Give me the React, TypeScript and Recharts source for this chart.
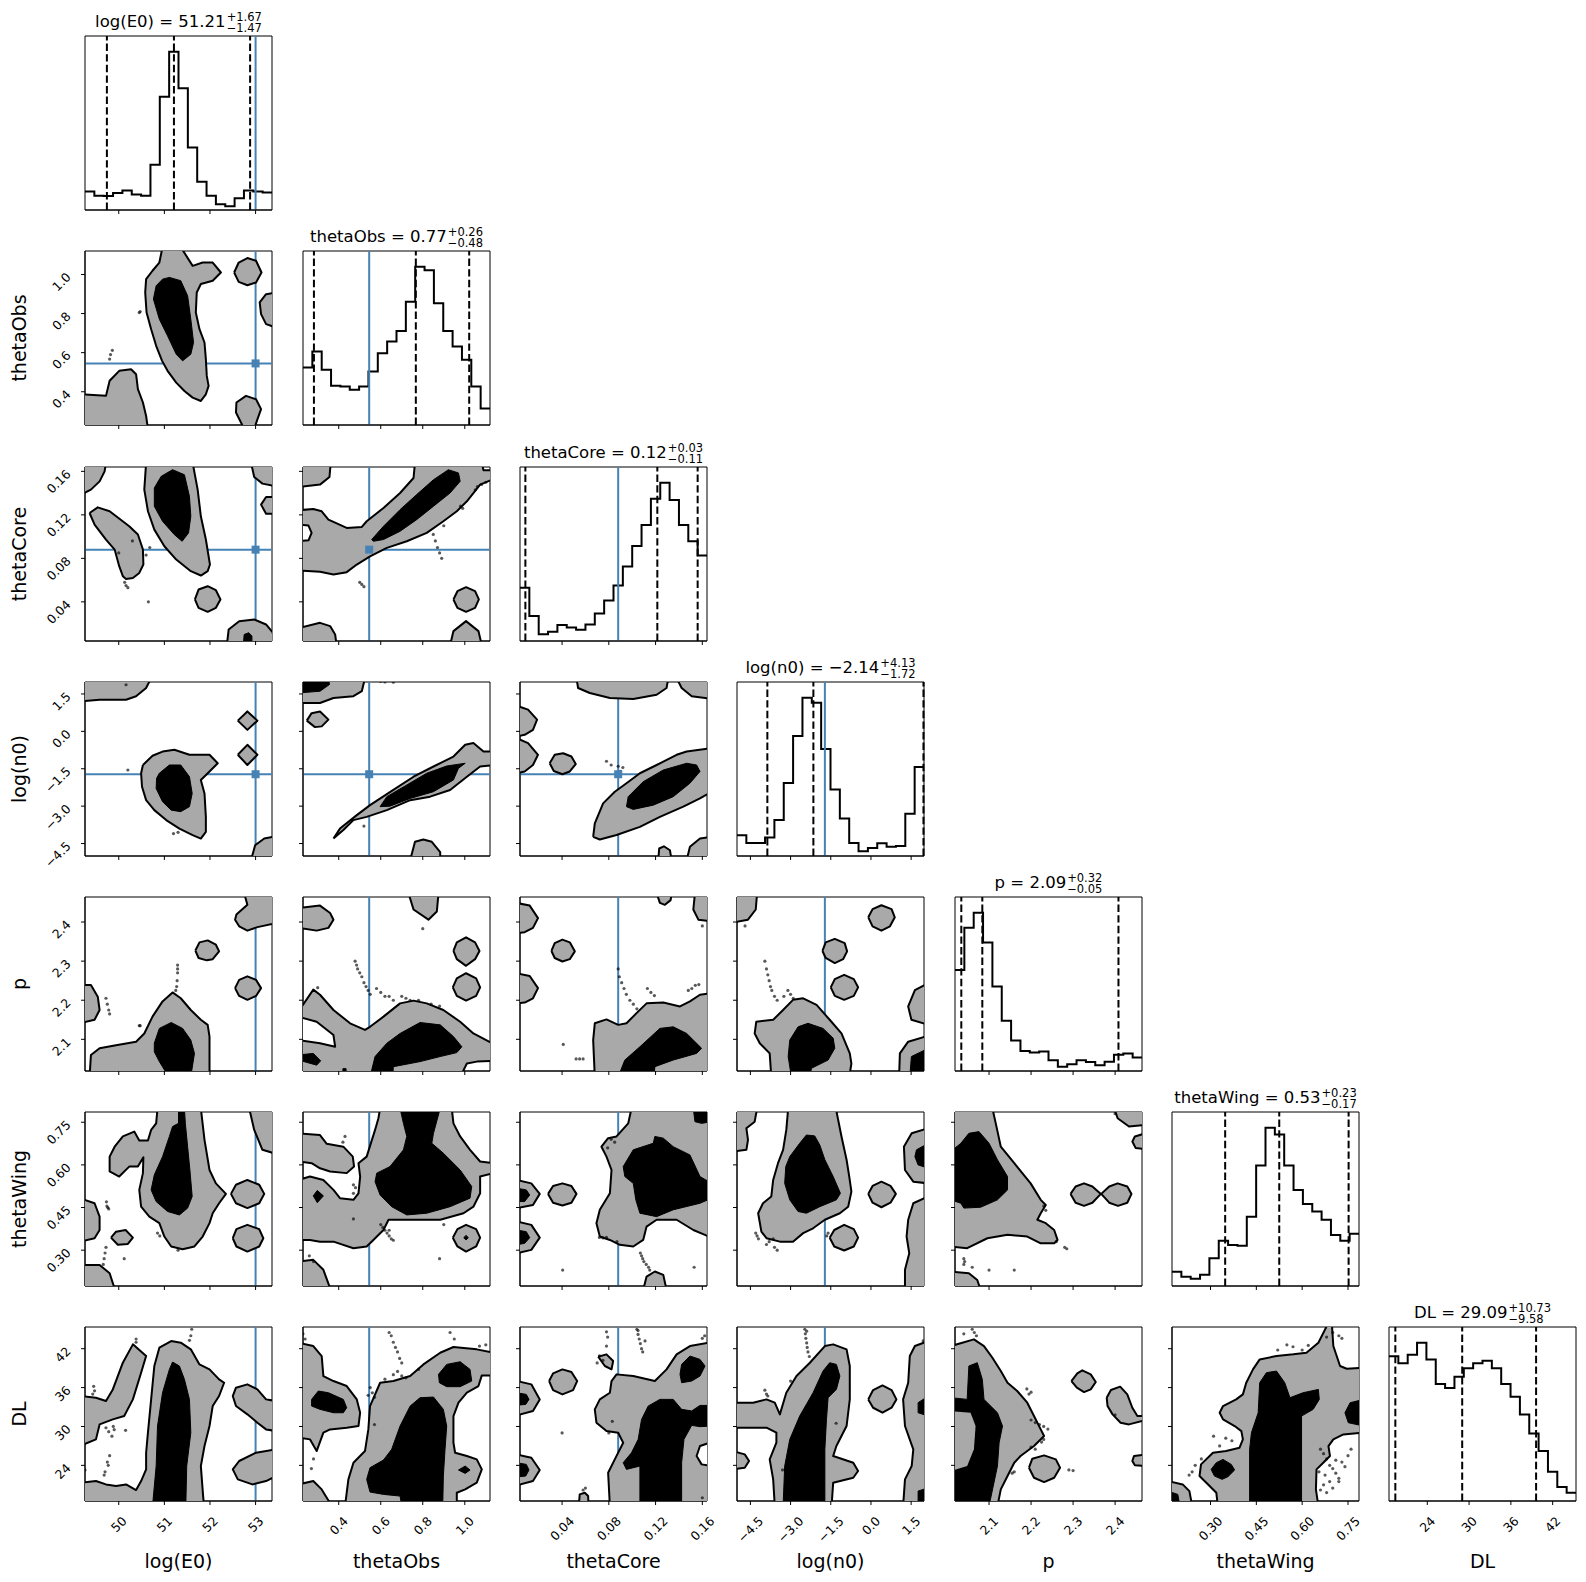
import React from 'react';
import { ComposedChart, Scatter, Line, XAxis, YAxis, ReferenceLine, ReferenceArea } from 'recharts';

// ---------- parameters ----------
const LABELS = ['log(E0)', 'thetaObs', 'thetaCore', 'log(n0)', 'p', 'thetaWing', 'DL'];
const LO = [49.26, 0.23, 0.004, -5.0, 2.019, 0.174, 18.5];
const HI = [53.36, 1.12, 0.164, 1.98, 2.464, 0.786, 45.35];
const TICKS = [
  [50, 51, 52, 53],
  [0.4, 0.6, 0.8, 1.0],
  [0.04, 0.08, 0.12, 0.16],
  [-4.5, -3.0, -1.5, 0, 1.5],
  [2.1, 2.2, 2.3, 2.4],
  [0.3, 0.45, 0.6, 0.75],
  [24, 30, 36, 42],
];
const DECIMALS = [0, 1, 2, 1, 1, 2, 0];
const TRUTH: (number | null)[] = [53.0, 0.545, 0.088, -1.72, null, null, null];
const MEDIAN_TXT = ['51.21', '0.77', '0.12', '\u22122.14', '2.09', '0.53', '29.09'];
const PLUS_TXT = ['+1.67', '+0.26', '+0.03', '+4.13', '+0.32', '+0.23', '+10.73'];
const MINUS_TXT = ['\u22121.47', '\u22120.48', '\u22120.11', '\u22121.72', '\u22120.05', '\u22120.17', '\u22129.58'];
const QUANTILES = [
  [49.74, 51.21, 52.88],
  [0.282, 0.767, 1.021],
  [0.0086, 0.1215, 0.156],
  [-3.867, -2.149, 1.96],
  [2.034, 2.084, 2.408],
  [0.348, 0.525, 0.752],
  [19.41, 29.01, 39.62],
];

// ---------- histogram counts (20 bins) ----------
const H_E0 = [56, 43, 42, 51, 59, 47, 43, 136, 341, 476, 366, 188, 85, 43, 17, 11, 35, 59, 56, 53];
const H_TOBS = [173, 221, 166, 118, 116, 106, 116, 161, 216, 251, 283, 371, 476, 466, 366, 283, 236, 196, 116, 50];
const H_TCORE = [160, 75, 20, 28, 48, 41, 34, 50, 83, 122, 167, 224, 286, 349, 428, 476, 424, 349, 300, 257];
const H_N0 = [62, 39, 39, 55, 108, 218, 359, 473, 458, 320, 199, 112, 39, 14, 24, 38, 28, 30, 126, 266];
const H_P = [304, 431, 476, 387, 254, 151, 92, 60, 56, 59, 32, 13, 20, 32, 27, 17, 28, 49, 53, 41];
const H_TWING = [43, 28, 22, 34, 83, 136, 123, 121, 208, 362, 475, 455, 362, 288, 246, 224, 199, 153, 136, 157];
const H_DL = [435, 414, 439, 475, 425, 351, 339, 373, 399, 414, 421, 399, 351, 313, 260, 203, 150, 88, 42, 25];
const HISTS = [H_E0, H_TOBS, H_TCORE, H_N0, H_P, H_TWING, H_DL];

// ---------- contour polygons (data units: x,y pairs) ----------
type Poly = [string, number[]];
const P10: Poly[] = [
  ['g', [50.96, 1.14, 51.36, 1.14, 51.62, 1.044, 51.84, 1.061, 52.06, 1.061, 52.24, 1.01, 52.06, 0.968, 51.8, 0.951, 51.71, 0.908, 51.69, 0.805, 51.77, 0.72, 51.88, 0.652, 51.91, 0.567, 51.93, 0.481, 51.97, 0.43, 51.91, 0.387, 51.8, 0.353, 51.62, 0.37, 51.44, 0.404, 51.26, 0.447, 51.07, 0.507, 50.95, 0.558, 50.82, 0.635, 50.71, 0.72, 50.61, 0.805, 50.58, 0.908, 50.6, 0.976, 50.74, 1.019, 50.89, 1.061]],
  ['b', [51.11, 0.985, 51.36, 0.968, 51.51, 0.891, 51.58, 0.771, 51.64, 0.652, 51.58, 0.592, 51.4, 0.558, 51.26, 0.592, 51.07, 0.686, 50.89, 0.771, 50.76, 0.874, 50.82, 0.942, 50.96, 0.976]],
  ['g', [52.53, 1.01, 52.63, 1.061, 52.82, 1.084, 53.01, 1.07, 53.13, 1.01, 53.01, 0.959, 52.82, 0.945, 52.63, 0.962]],
  ['g', [53.45, 0.908, 53.23, 0.899, 53.09, 0.857, 53.12, 0.797, 53.23, 0.746, 53.45, 0.729]],
  ['g', [52.75, 0.21, 52.57, 0.294, 52.58, 0.345, 52.79, 0.379, 53.01, 0.362, 53.12, 0.311, 53.04, 0.259, 52.97, 0.21]],
  ['g', [49.2, 0.387, 49.72, 0.379, 49.8, 0.456, 50.01, 0.507, 50.27, 0.515, 50.38, 0.49, 50.42, 0.413, 50.53, 0.345, 50.6, 0.276, 50.64, 0.21, 49.2, 0.21]],
];
const D10 = [49.8, 0.567, 49.82, 0.59, 49.86, 0.612, 50.45, 0.805, 50.47, 0.81];

const P20: Poly[] = [
  ['g', [49.14, 0.168, 49.72, 0.168, 49.69, 0.16, 49.58, 0.1508, 49.39, 0.1432, 49.21, 0.1395]],
  ['g', [49.36, 0.1217, 49.54, 0.1269, 49.8, 0.1233, 50.23, 0.1095, 50.42, 0.1019, 50.53, 0.0881, 50.54, 0.0743, 50.45, 0.0666, 50.31, 0.062, 50.16, 0.0611, 50.09, 0.0636, 50.01, 0.0728, 49.91, 0.0881, 49.72, 0.0973, 49.47, 0.111]],
  ['g', [50.6, 0.168, 51.62, 0.168, 51.73, 0.1432, 51.8, 0.1187, 51.91, 0.0973, 52.0, 0.0743, 51.95, 0.0682, 51.8, 0.0642, 51.58, 0.0682, 51.26, 0.0789, 51.0, 0.0911, 50.78, 0.1064, 50.64, 0.1233, 50.56, 0.1432]],
  ['b', [51.18, 0.1615, 51.44, 0.1569, 51.55, 0.137, 51.58, 0.1187, 51.53, 0.1034, 51.39, 0.0957, 51.22, 0.1018, 50.96, 0.1141, 50.78, 0.1279, 50.78, 0.1447, 50.93, 0.1554]],
  ['g', [52.9, 0.168, 53.45, 0.168, 53.45, 0.1462, 53.15, 0.1487, 52.97, 0.1548]],
  ['g', [53.45, 0.1364, 53.23, 0.1364, 53.12, 0.1294, 53.23, 0.1211, 53.45, 0.1211]],
  ['g', [51.67, 0.0422, 51.75, 0.0513, 51.95, 0.0544, 52.13, 0.0507, 52.23, 0.0422, 52.13, 0.0345, 51.95, 0.0308, 51.75, 0.0345]],
  ['g', [52.37, 0.0, 52.41, 0.0146, 52.64, 0.0222, 52.97, 0.0238, 53.23, 0.0192, 53.37, 0.0122, 53.45, 0.0]],
  ['b', [52.73, 0.0, 52.75, 0.01, 52.85, 0.0116, 52.92, 0.0085, 52.92, 0.0]],
];
const D20 = [50.13, 0.058, 50.16, 0.055, 50.2, 0.053, 50.0, 0.085, 50.3, 0.096, 50.6, 0.083, 50.68, 0.09, 50.65, 0.04];

const P21: Poly[] = [
  ['g', [0.208, 0.168, 0.362, 0.168, 0.356, 0.1548, 0.311, 0.1478, 0.208, 0.1456]],
  ['g', [0.208, 0.1242, 0.279, 0.1254, 0.319, 0.1233, 0.351, 0.1156, 0.438, 0.108, 0.51, 0.1089, 0.533, 0.1141, 0.613, 0.1263, 0.692, 0.1401, 0.756, 0.1539, 0.763, 0.168, 1.081, 0.168, 1.089, 0.1609, 1.137, 0.1609, 1.137, 0.153, 1.073, 0.1478, 1.01, 0.1325, 0.962, 0.1233, 0.898, 0.1141, 0.819, 0.1034, 0.724, 0.0957, 0.629, 0.0896, 0.549, 0.0819, 0.486, 0.0743, 0.438, 0.0673, 0.375, 0.0651, 0.311, 0.0676, 0.208, 0.0688]],
  ['w', [0.208, 0.111, 0.256, 0.1101, 0.271, 0.1034, 0.256, 0.0966, 0.208, 0.0957]],
  ['b', [0.557, 0.0973, 0.613, 0.1095, 0.692, 0.1248, 0.771, 0.1386, 0.851, 0.1523, 0.922, 0.1615, 0.97, 0.1585, 0.978, 0.1508, 0.93, 0.1401, 0.851, 0.1279, 0.771, 0.1156, 0.692, 0.1049, 0.613, 0.0973, 0.565, 0.0957]],
  ['g', [0.208, 0.0158, 0.311, 0.0207, 0.359, 0.0177, 0.383, 0.01, 0.39, 0.0, 0.208, 0.0]],
  ['g', [0.946, 0.0422, 0.965, 0.0498, 1.006, 0.0535, 1.049, 0.0498, 1.067, 0.0422, 1.049, 0.0345, 1.006, 0.0308, 0.965, 0.0345]],
  ['g', [0.93, 0.0, 0.946, 0.0131, 1.006, 0.0223, 1.065, 0.0131, 1.081, 0.0]],
];
const D21 = [0.85, 0.102, 0.86, 0.096, 0.87, 0.09, 0.88, 0.085, 0.89, 0.08, 0.9, 0.11, 1.06, 0.146, 1.08, 0.148, 1.1, 0.15, 1.05, 0.143, 0.99, 0.126, 0.98, 0.128, 0.5, 0.058, 0.51, 0.056, 0.52, 0.054, 0.21, 0.065];

const P30: Poly[] = [
  ['g', [49.14, 2.14, 50.71, 2.14, 50.6, 1.74, 50.38, 1.41, 50.16, 1.27, 49.58, 1.27, 49.14, 1.2]],
  ['g', [52.61, 0.43, 52.82, 0.8, 53.04, 0.43, 52.82, 0.06]],
  ['g', [52.61, -0.94, 52.82, -0.54, 53.04, -0.94, 52.82, -1.35]],
  ['g', [50.53, -1.35, 50.74, -0.98, 50.96, -0.81, 51.22, -0.74, 51.55, -0.94, 51.99, -0.94, 52.17, -1.28, 51.99, -1.61, 51.8, -1.95, 51.88, -2.49, 51.91, -3.43, 51.91, -4.03, 51.8, -4.3, 51.62, -4.16, 51.33, -3.9, 51.04, -3.56, 50.78, -3.16, 50.6, -2.76, 50.51, -2.22, 50.49, -1.68]],
  ['b', [50.89, -1.68, 51.11, -1.35, 51.36, -1.35, 51.55, -1.82, 51.61, -2.49, 51.55, -3.02, 51.36, -3.22, 51.15, -3.16, 50.96, -2.82, 50.82, -2.29, 50.83, -1.88]],
  ['g', [52.9, -5.17, 52.99, -4.57, 53.19, -4.3, 53.45, -4.2, 53.45, -5.17]],
];
const D30 = [50.16, 1.87, 51.2, -4.1, 51.3, -4.05, 50.2, -1.55];

const P31: Poly[] = [
  ['g', [0.208, 2.14, 0.525, 2.14, 0.51, 1.61, 0.47, 1.41, 0.375, 1.34, 0.311, 1.14, 0.208, 1.14]],
  ['b', [0.208, 2.14, 0.351, 2.14, 0.356, 1.88, 0.311, 1.61, 0.208, 1.54]],
  ['g', [0.248, 0.43, 0.271, 0.73, 0.311, 0.8, 0.351, 0.47, 0.319, 0.2, 0.287, 0.17]],
  ['g', [0.375, -4.3, 0.406, -3.9, 0.486, -3.36, 0.549, -2.96, 0.66, -2.35, 0.756, -1.82, 0.851, -1.41, 0.946, -1.01, 1.002, -0.54, 1.041, -0.47, 1.089, -0.81, 1.137, -0.81, 1.137, -1.35, 1.073, -1.41, 1.01, -1.82, 0.93, -2.35, 0.835, -2.62, 0.74, -2.76, 0.629, -3.16, 0.533, -3.43, 0.47, -3.56, 0.422, -3.96]],
  ['b', [0.597, -3.02, 0.629, -2.62, 0.724, -2.15, 0.819, -1.68, 0.914, -1.39, 1.002, -1.28, 0.97, -1.48, 0.946, -1.95, 0.851, -2.42, 0.74, -2.69, 0.644, -3.0]],
  ['g', [0.74, -5.17, 0.763, -4.43, 0.803, -4.34, 0.843, -4.43, 0.883, -4.84, 0.883, -5.17]],
];
const D31 = [0.6, 2.0, 0.62, 1.98, 0.66, 1.97, 0.52, -3.8];

const P32: Poly[] = [
  ['g', [0.0523, 2.14, 0.0537, 1.74, 0.0637, 1.54, 0.0809, 1.34, 0.1009, 1.3, 0.1209, 1.47, 0.1294, 1.74, 0.1309, 2.14]],
  ['g', [0.138, 2.14, 0.1423, 1.74, 0.1509, 1.41, 0.168, 1.3, 0.168, 2.14]],
  ['g', [0.0009, 1.03, 0.0109, 0.87, 0.0186, 0.47, 0.0151, 0.06, 0.008, -0.14, 0.0009, -0.2]],
  ['g', [0.0009, -0.27, 0.0109, -0.47, 0.0194, -0.94, 0.0151, -1.35, 0.008, -1.61, 0.0009, -1.68]],
  ['g', [0.0294, -1.28, 0.0337, -0.94, 0.0409, -0.88, 0.048, -1.01, 0.0517, -1.31, 0.0466, -1.61, 0.0403, -1.72, 0.0329, -1.59]],
  ['g', [0.0666, -4.23, 0.068, -3.69, 0.0751, -2.89, 0.0851, -2.42, 0.0951, -2.08, 0.1066, -1.68, 0.1209, -1.35, 0.138, -0.94, 0.1466, -0.81, 0.168, -0.67, 0.168, -2.42, 0.158, -2.69, 0.1437, -3.02, 0.1237, -3.43, 0.1066, -3.83, 0.0866, -4.16, 0.0723, -4.34]],
  ['b', [0.0951, -3.02, 0.0966, -2.62, 0.1094, -2.02, 0.1266, -1.55, 0.1466, -1.28, 0.1551, -1.35, 0.158, -1.61, 0.1494, -2.08, 0.1351, -2.62, 0.118, -2.96, 0.1009, -3.13]],
  ['g', [0.1223, -5.17, 0.1231, -4.7, 0.1271, -4.61, 0.1323, -4.77, 0.1337, -5.17]],
  ['g', [0.1466, -5.17, 0.1494, -4.63, 0.158, -4.3, 0.168, -4.23, 0.168, -5.17]],
];
const D32 = [0.078, -1.2, 0.082, -1.35, 0.088, -1.4, 0.092, -1.45, 0.09, -1.6];

const P40: Poly[] = [
  ['g', [49.14, 2.239, 49.39, 2.239, 49.54, 2.209, 49.58, 2.175, 49.47, 2.15, 49.14, 2.141]],
  ['g', [49.36, 2.004, 49.39, 2.06, 49.58, 2.077, 49.94, 2.085, 50.38, 2.094, 50.56, 2.115, 50.74, 2.158, 50.96, 2.197, 51.18, 2.22, 51.36, 2.205, 51.58, 2.175, 51.8, 2.15, 51.95, 2.137, 51.99, 2.107, 51.99, 2.004]],
  ['b', [50.78, 2.09, 50.89, 2.128, 51.15, 2.143, 51.4, 2.128, 51.58, 2.098, 51.66, 2.064, 51.58, 2.005, 51.09, 2.005, 50.89, 2.043, 50.78, 2.068]],
  ['g', [51.68, 2.327, 51.77, 2.348, 51.95, 2.353, 52.13, 2.342, 52.2, 2.325, 52.06, 2.305, 51.93, 2.302, 51.75, 2.308]],
  ['g', [52.55, 2.231, 52.64, 2.252, 52.82, 2.261, 53.01, 2.252, 53.12, 2.231, 53.01, 2.211, 52.82, 2.201, 52.64, 2.211]],
  ['g', [52.75, 2.474, 52.82, 2.444, 52.58, 2.419, 52.55, 2.406, 52.64, 2.389, 52.82, 2.378, 53.04, 2.387, 53.45, 2.397, 53.45, 2.474]],
];
const D40 = [51.29, 2.29, 51.29, 2.27, 51.28, 2.25, 51.27, 2.235, 51.25, 2.225, 51.29, 2.28, 49.72, 2.205, 49.75, 2.19, 49.78, 2.175, 49.8, 2.165, 50.45, 2.135, 50.47, 2.135];

const P41: Poly[] = [
  ['g', [0.208, 2.436, 0.311, 2.442, 0.359, 2.423, 0.375, 2.406, 0.351, 2.385, 0.295, 2.378, 0.208, 2.385]],
  ['g', [0.732, 2.474, 0.756, 2.432, 0.827, 2.406, 0.867, 2.427, 0.875, 2.474]],
  ['g', [0.946, 2.326, 0.962, 2.348, 1.006, 2.361, 1.049, 2.348, 1.07, 2.326, 1.049, 2.305, 1.006, 2.288, 0.962, 2.305]],
  ['g', [0.943, 2.233, 0.962, 2.256, 1.006, 2.269, 1.054, 2.256, 1.073, 2.233, 1.054, 2.211, 1.006, 2.199, 0.962, 2.211]],
  ['g', [0.208, 2.171, 0.279, 2.227, 0.311, 2.214, 0.375, 2.175, 0.454, 2.141, 0.525, 2.124, 0.549, 2.132, 0.613, 2.158, 0.692, 2.192, 0.756, 2.199, 0.819, 2.192, 0.898, 2.175, 0.978, 2.145, 1.041, 2.115, 1.137, 2.088, 1.137, 2.045, 1.057, 2.043, 1.01, 2.038, 0.978, 2.004, 0.208, 2.004]],
  ['w', [0.208, 2.158, 0.295, 2.145, 0.375, 2.111, 0.383, 2.081, 0.311, 2.09, 0.208, 2.098]],
  ['b', [0.549, 2.004, 0.573, 2.056, 0.629, 2.09, 0.692, 2.115, 0.787, 2.143, 0.883, 2.137, 0.946, 2.107, 0.986, 2.081, 0.962, 2.066, 0.883, 2.056, 0.787, 2.043, 0.66, 2.03, 0.657, 2.004]],
  ['b', [0.208, 2.06, 0.279, 2.064, 0.314, 2.045, 0.295, 2.034, 0.208, 2.047]],
  ['b', [0.42, 2.004, 0.42, 2.025, 0.435, 2.025, 0.435, 2.004]],
];
const D41 = [0.478, 2.3, 0.485, 2.29, 0.49, 2.28, 0.5, 2.27, 0.51, 2.26, 0.52, 2.245, 0.53, 2.235, 0.54, 2.225, 0.55, 2.215, 0.58, 2.23, 0.6, 2.22, 0.62, 2.21, 0.64, 2.21, 0.66, 2.2, 0.7, 2.21, 0.72, 2.205, 0.74, 2.2, 0.78, 2.2, 0.84, 2.19, 0.88, 2.185, 0.3, 2.232, 0.8, 2.383];

const P42: Poly[] = [
  ['g', [0.0009, 2.449, 0.0123, 2.442, 0.0194, 2.41, 0.0151, 2.385, 0.008, 2.374, 0.0009, 2.372]],
  ['g', [0.0009, 2.269, 0.0123, 2.262, 0.0194, 2.231, 0.0151, 2.205, 0.008, 2.194, 0.0009, 2.192]],
  ['g', [0.0309, 2.326, 0.0337, 2.346, 0.0403, 2.355, 0.0466, 2.348, 0.0509, 2.325, 0.0466, 2.305, 0.0403, 2.299, 0.0337, 2.308]],
  ['g', [0.1209, 2.474, 0.1237, 2.449, 0.128, 2.444, 0.1329, 2.456, 0.1337, 2.474]],
  ['g', [0.1537, 2.474, 0.1523, 2.432, 0.1566, 2.406, 0.168, 2.402, 0.168, 2.474]],
  ['g', [0.068, 2.004, 0.0666, 2.098, 0.068, 2.141, 0.078, 2.151, 0.088, 2.137, 0.0951, 2.141, 0.1037, 2.167, 0.1123, 2.192, 0.1266, 2.194, 0.1409, 2.184, 0.1494, 2.197, 0.158, 2.214, 0.168, 2.218, 0.168, 2.004]],
  ['b', [0.088, 2.004, 0.0937, 2.047, 0.1066, 2.081, 0.1237, 2.128, 0.1351, 2.132, 0.1466, 2.115, 0.1594, 2.077, 0.1551, 2.064, 0.1351, 2.047, 0.1194, 2.03, 0.1186, 2.004]],
];
const D42 = [0.088, 2.28, 0.089, 2.26, 0.091, 2.245, 0.093, 2.23, 0.095, 2.215, 0.098, 2.2, 0.101, 2.19, 0.104, 2.178, 0.113, 2.23, 0.116, 2.22, 0.119, 2.212, 0.148, 2.225, 0.151, 2.23, 0.154, 2.238, 0.157, 2.24, 0.052, 2.05, 0.055, 2.05, 0.058, 2.05, 0.041, 2.087, 0.16, 2.39];

const P43: Poly[] = [
  ['g', [-5.15, 2.474, -4.25, 2.474, -4.3, 2.432, -4.59, 2.406, -5.15, 2.399]],
  ['g', [-0.1, 2.412, 0.06, 2.433, 0.39, 2.443, 0.77, 2.433, 0.89, 2.412, 0.71, 2.389, 0.39, 2.378, 0.06, 2.389]],
  ['g', [-1.81, 2.326, -1.69, 2.348, -1.35, 2.357, -0.98, 2.346, -0.89, 2.325, -1.04, 2.305, -1.35, 2.295, -1.69, 2.308]],
  ['g', [-1.5, 2.233, -1.35, 2.254, -1.0, 2.265, -0.64, 2.254, -0.48, 2.233, -0.64, 2.211, -1.0, 2.201, -1.35, 2.211]],
  ['g', [2.14, 2.244, 1.64, 2.226, 1.39, 2.184, 1.51, 2.15, 2.14, 2.137]],
  ['g', [1.05, 2.004, 1.08, 2.064, 1.39, 2.094, 2.14, 2.109, 2.14, 2.004]],
  ['b', [1.45, 2.004, 1.51, 2.056, 2.14, 2.077, 2.14, 2.004]],
  ['g', [-3.72, 2.004, -3.78, 2.064, -4.15, 2.09, -4.34, 2.115, -4.28, 2.145, -3.65, 2.15, -3.28, 2.175, -2.91, 2.201, -2.53, 2.205, -2.03, 2.188, -1.54, 2.15, -1.1, 2.115, -0.79, 2.064, -0.73, 2.038, -0.81, 2.004]],
  ['b', [-2.97, 2.004, -3.09, 2.056, -3.03, 2.098, -2.72, 2.132, -2.35, 2.141, -1.79, 2.128, -1.41, 2.103, -1.35, 2.077, -1.6, 2.047, -2.22, 2.026, -2.28, 2.004]],
];
const D43 = [-3.96, 2.3, -3.9, 2.28, -3.85, 2.265, -3.8, 2.25, -3.75, 2.235, -3.7, 2.225, -3.6, 2.21, -3.5, 2.2, -3.25, 2.21, -3.1, 2.225, -3.0, 2.215, -2.9, 2.205, -4.7, 2.39];

const P50: Poly[] = [
  ['g', [50.85, 0.799, 51.8, 0.799, 51.88, 0.688, 51.99, 0.582, 52.13, 0.535, 52.35, 0.498, 52.2, 0.465, 52.06, 0.43, 51.99, 0.395, 51.84, 0.348, 51.66, 0.313, 51.4, 0.303, 51.15, 0.313, 51.0, 0.348, 50.89, 0.395, 50.67, 0.418, 50.49, 0.453, 50.45, 0.512, 50.53, 0.571, 50.54, 0.627, 50.42, 0.594, 50.23, 0.594, 50.01, 0.559, 49.8, 0.577, 49.8, 0.629, 49.91, 0.664, 50.09, 0.7, 50.34, 0.717, 50.45, 0.686, 50.64, 0.686, 50.71, 0.723, 50.82, 0.746]],
  ['b', [51.31, 0.799, 51.44, 0.799, 51.46, 0.746, 51.51, 0.664, 51.56, 0.582, 51.61, 0.489, 51.51, 0.448, 51.33, 0.424, 51.07, 0.436, 50.82, 0.471, 50.71, 0.512, 50.78, 0.565, 50.96, 0.629, 51.11, 0.7, 51.18, 0.735, 51.31, 0.746]],
  ['g', [52.86, 0.799, 52.97, 0.723, 53.15, 0.653, 53.45, 0.639, 53.45, 0.799]],
  ['g', [52.46, 0.498, 52.57, 0.53, 52.82, 0.547, 53.08, 0.53, 53.19, 0.498, 53.08, 0.465, 52.82, 0.448, 52.57, 0.465]],
  ['g', [52.5, 0.342, 52.58, 0.374, 52.82, 0.389, 53.08, 0.374, 53.17, 0.342, 53.08, 0.313, 52.82, 0.295, 52.58, 0.313]],
  ['g', [49.14, 0.483, 49.47, 0.465, 49.58, 0.418, 49.58, 0.371, 49.47, 0.342, 49.14, 0.33]],
  ['g', [49.83, 0.344, 49.94, 0.365, 50.15, 0.371, 50.31, 0.344, 50.2, 0.322, 49.98, 0.319]],
  ['g', [49.14, 0.248, 49.58, 0.248, 49.8, 0.219, 49.92, 0.16, 49.14, 0.16]],
];
const D50 = [49.73, 0.47, 49.74, 0.455, 49.76, 0.45, 49.78, 0.445, 49.72, 0.31, 49.7, 0.29, 49.68, 0.27, 49.66, 0.25, 50.12, 0.27, 51.3, 0.3, 50.9, 0.35, 50.85, 0.36];

const P51: Poly[] = [
  ['g', [0.208, 0.711, 0.311, 0.705, 0.343, 0.674, 0.422, 0.664, 0.467, 0.629, 0.473, 0.594, 0.438, 0.571, 0.359, 0.577, 0.311, 0.588, 0.271, 0.606, 0.208, 0.612]],
  ['g', [0.208, 0.547, 0.263, 0.559, 0.327, 0.547, 0.375, 0.512, 0.406, 0.483, 0.47, 0.477, 0.494, 0.5, 0.502, 0.559, 0.494, 0.606, 0.533, 0.629, 0.573, 0.723, 0.589, 0.764, 0.597, 0.799, 0.938, 0.799, 0.946, 0.746, 0.978, 0.7, 1.025, 0.653, 1.073, 0.612, 1.137, 0.606, 1.137, 0.571, 1.073, 0.559, 1.073, 0.5, 1.041, 0.453, 0.994, 0.43, 0.883, 0.407, 0.74, 0.407, 0.637, 0.407, 0.613, 0.371, 0.565, 0.336, 0.533, 0.313, 0.47, 0.307, 0.375, 0.33, 0.311, 0.33, 0.263, 0.336, 0.208, 0.336]],
  ['b', [0.692, 0.799, 0.883, 0.799, 0.851, 0.711, 0.843, 0.676, 0.898, 0.641, 0.978, 0.582, 1.033, 0.524, 1.025, 0.483, 0.93, 0.453, 0.819, 0.43, 0.724, 0.424, 0.652, 0.453, 0.597, 0.494, 0.573, 0.541, 0.581, 0.571, 0.644, 0.594, 0.708, 0.653, 0.724, 0.7, 0.708, 0.746]],
  ['g', [0.208, 0.26, 0.279, 0.266, 0.327, 0.231, 0.362, 0.16, 0.208, 0.16]],
  ['b', [0.279, 0.491, 0.298, 0.51, 0.327, 0.491, 0.298, 0.467]],
  ['g', [0.943, 0.344, 0.965, 0.374, 1.006, 0.389, 1.054, 0.374, 1.073, 0.344, 1.054, 0.313, 1.006, 0.295, 0.965, 0.313]],
  ['b', [0.995, 0.344, 1.006, 0.352, 1.017, 0.344, 1.006, 0.336]],
];
const D51 = [0.6, 0.39, 0.62, 0.37, 0.63, 0.36, 0.64, 0.35, 0.65, 0.34, 0.66, 0.335, 0.61, 0.38, 0.64, 0.37, 0.47, 0.5, 0.48, 0.52, 0.47, 0.53, 0.42, 0.68, 0.43, 0.7, 0.26, 0.28, 0.28, 0.26, 0.47, 0.41, 0.88, 0.27, 0.9, 0.39];

const P52: Poly[] = [
  ['g', [0.0009, 0.547, 0.0137, 0.535, 0.0209, 0.498, 0.0151, 0.459, 0.0009, 0.448]],
  ['b', [0.0009, 0.518, 0.0094, 0.512, 0.0123, 0.494, 0.008, 0.471, 0.0009, 0.471]],
  ['g', [0.0009, 0.401, 0.0137, 0.389, 0.0209, 0.344, 0.0137, 0.301, 0.0009, 0.289]],
  ['b', [0.0009, 0.371, 0.0094, 0.365, 0.0123, 0.344, 0.008, 0.324, 0.0009, 0.319]],
  ['g', [0.028, 0.498, 0.0323, 0.526, 0.0403, 0.535, 0.048, 0.526, 0.0523, 0.498, 0.048, 0.467, 0.0403, 0.457, 0.0323, 0.467]],
  ['g', [0.0723, 0.348, 0.0694, 0.395, 0.0723, 0.442, 0.0809, 0.5, 0.0823, 0.582, 0.078, 0.629, 0.0737, 0.664, 0.0794, 0.694, 0.0866, 0.7, 0.0966, 0.746, 0.0994, 0.799, 0.168, 0.799, 0.168, 0.344, 0.1523, 0.371, 0.138, 0.407, 0.1209, 0.407, 0.1123, 0.383, 0.1094, 0.336, 0.1009, 0.313, 0.0894, 0.319, 0.0809, 0.336]],
  ['b', [0.0923, 0.594, 0.1009, 0.653, 0.118, 0.676, 0.1194, 0.7, 0.1266, 0.694, 0.1351, 0.664, 0.1494, 0.635, 0.158, 0.559, 0.168, 0.535, 0.168, 0.483, 0.158, 0.465, 0.1351, 0.442, 0.1209, 0.418, 0.1066, 0.43, 0.1031, 0.477, 0.1009, 0.535, 0.0937, 0.559]],
  ['b', [0.1523, 0.799, 0.1537, 0.752, 0.1594, 0.746, 0.168, 0.752, 0.168, 0.799]],
  ['g', [0.1094, 0.16, 0.1123, 0.207, 0.1194, 0.225, 0.1266, 0.213, 0.1294, 0.16]],
];
const D52 = [0.107, 0.29, 0.108, 0.28, 0.109, 0.27, 0.11, 0.26, 0.112, 0.25, 0.114, 0.24, 0.115, 0.23, 0.072, 0.345, 0.075, 0.343, 0.078, 0.345, 0.082, 0.69, 0.085, 0.68, 0.079, 0.66, 0.153, 0.24, 0.0405, 0.23, 0.087, 0.33];

const P53: Poly[] = [
  ['g', [-5.15, 0.799, -4.25, 0.799, -4.34, 0.752, -4.65, 0.729, -4.59, 0.688, -4.65, 0.653, -5.15, 0.647]],
  ['g', [-3.09, 0.799, -1.31, 0.799, -1.1, 0.7, -0.91, 0.618, -0.81, 0.559, -0.73, 0.506, -0.85, 0.453, -1.16, 0.43, -1.72, 0.407, -2.16, 0.377, -2.53, 0.36, -2.91, 0.33, -3.4, 0.33, -3.9, 0.342, -4.09, 0.365, -4.21, 0.43, -4.03, 0.465, -3.72, 0.489, -3.65, 0.547, -3.47, 0.606, -3.28, 0.653, -3.16, 0.723]],
  ['b', [-3.03, 0.629, -2.66, 0.676, -2.41, 0.705, -2.1, 0.702, -1.91, 0.67, -1.72, 0.618, -1.41, 0.559, -1.14, 0.5, -1.29, 0.477, -1.91, 0.453, -2.41, 0.43, -2.72, 0.436, -3.03, 0.477, -3.22, 0.535, -3.18, 0.594]],
  ['g', [-0.1, 0.498, 0.06, 0.526, 0.39, 0.541, 0.73, 0.526, 0.93, 0.498, 0.73, 0.467, 0.39, 0.451, 0.06, 0.467]],
  ['g', [-1.54, 0.344, -1.37, 0.371, -1.0, 0.389, -0.64, 0.374, -0.48, 0.344, -0.64, 0.313, -1.0, 0.299, -1.37, 0.313]],
  ['g', [2.14, 0.729, 1.52, 0.711, 1.23, 0.664, 1.27, 0.582, 1.58, 0.541, 2.14, 0.535]],
  ['b', [2.14, 0.676, 1.7, 0.653, 1.64, 0.629, 1.76, 0.6, 2.14, 0.588]],
  ['g', [2.14, 0.489, 1.58, 0.465, 1.39, 0.407, 1.33, 0.348, 1.43, 0.289, 1.27, 0.231, 1.27, 0.16, 2.14, 0.16]],
];
const D53 = [-4.3, 0.36, -4.25, 0.35, -4.2, 0.34, -3.9, 0.32, -3.8, 0.33, -3.6, 0.31, -3.5, 0.3, -3.65, 0.34, -1.6, 0.36, -1.65, 0.35];

const P54: Poly[] = [
  ['g', [2.009, 0.799, 2.108, 0.799, 2.116, 0.746, 2.128, 0.664, 2.16, 0.606, 2.199, 0.535, 2.223, 0.477, 2.235, 0.459, 2.223, 0.43, 2.215, 0.407, 2.235, 0.395, 2.255, 0.371, 2.263, 0.336, 2.255, 0.324, 2.223, 0.324, 2.191, 0.348, 2.144, 0.354, 2.096, 0.342, 2.048, 0.307, 2.009, 0.313]],
  ['b', [2.009, 0.647, 2.033, 0.676, 2.052, 0.711, 2.076, 0.717, 2.1, 0.676, 2.12, 0.618, 2.144, 0.559, 2.144, 0.512, 2.12, 0.477, 2.08, 0.451, 2.04, 0.448, 2.033, 0.465, 2.009, 0.477]],
  ['g', [2.009, 0.225, 2.052, 0.219, 2.072, 0.195, 2.08, 0.16, 2.009, 0.16]],
  ['g', [2.398, 0.799, 2.406, 0.764, 2.433, 0.735, 2.473, 0.741, 2.473, 0.799]],
  ['g', [2.473, 0.711, 2.447, 0.7, 2.441, 0.682, 2.449, 0.659, 2.473, 0.655]],
  ['g', [2.294, 0.498, 2.306, 0.524, 2.326, 0.535, 2.346, 0.524, 2.366, 0.498, 2.346, 0.467, 2.326, 0.456, 2.306, 0.467]],
  ['g', [2.367, 0.498, 2.386, 0.524, 2.406, 0.535, 2.429, 0.524, 2.439, 0.498, 2.429, 0.467, 2.407, 0.456, 2.386, 0.467]],
];
const D54 = [2.04, 0.27, 2.042, 0.26, 2.04, 0.25, 2.06, 0.24, 2.1, 0.23, 2.16, 0.23, 2.23, 0.455, 2.235, 0.44, 2.26, 0.33, 2.28, 0.31, 2.285, 0.305, 2.4, 0.78];

const P60: Poly[] = [
  ['g', [49.14, 17.7, 49.14, 21.32, 49.5, 21.58, 49.72, 21.06, 49.94, 20.81, 50.16, 21.06, 50.38, 20.19, 50.49, 21.58, 50.6, 23.38, 50.6, 25.95, 50.64, 29.04, 50.71, 34.18, 50.78, 39.33, 50.89, 42.15, 51.15, 43.18, 51.36, 42.93, 51.58, 41.9, 51.77, 39.58, 51.99, 38.81, 52.2, 37.27, 52.31, 36.75, 52.2, 34.7, 52.06, 33.15, 51.99, 30.07, 51.88, 26.98, 51.8, 23.89, 51.85, 19.26, 51.87, 17.7]],
  ['b', [50.74, 17.7, 50.82, 23.89, 50.85, 30.07, 50.96, 35.21, 51.11, 38.81, 51.18, 39.94, 51.33, 39.33, 51.44, 37.27, 51.55, 34.18, 51.58, 29.04, 51.49, 23.89, 51.47, 17.7]],
  ['g', [49.14, 34.7, 49.5, 34.44, 49.72, 33.92, 49.87, 35.72, 50.09, 39.84, 50.31, 42.67, 50.6, 40.87, 50.49, 38.3, 50.31, 34.18, 50.12, 31.61, 49.87, 31.09, 49.58, 30.32, 49.5, 28.01, 49.14, 26.98]],
  ['g', [53.45, 33.92, 53.23, 34.18, 53.04, 35.72, 52.82, 36.5, 52.57, 35.98, 52.5, 34.7, 52.57, 33.15, 52.82, 31.87, 53.04, 30.58, 53.23, 29.55, 53.45, 29.29]],
  ['g', [53.45, 26.47, 53.01, 25.95, 52.64, 24.67, 52.5, 23.38, 52.61, 21.84, 52.93, 21.06, 53.23, 21.58, 53.45, 22.35]],
];
const D60 = [49.72, 29.8, 49.78, 29.2, 49.85, 28.5, 49.88, 30.0, 49.9, 29.5, 49.75, 24.5, 49.77, 24.0, 49.7, 23.0, 49.68, 22.5, 49.8, 25.5, 49.45, 36.2, 49.47, 35.5, 49.43, 35.0, 49.26, 23.3, 50.38, 43.5, 50.38, 43.0, 51.6, 45.0, 51.58, 44.0, 51.55, 43.3, 50.15, 29.4];

const P61: Poly[] = [
  ['g', [0.208, 42.93, 0.279, 42.41, 0.319, 40.87, 0.327, 37.78, 0.375, 37.01, 0.438, 36.24, 0.486, 34.18, 0.502, 32.12, 0.494, 30.07, 0.438, 29.81, 0.359, 29.55, 0.327, 29.04, 0.295, 26.21, 0.263, 28.01, 0.208, 28.27]],
  ['b', [0.271, 34.18, 0.303, 35.47, 0.351, 35.21, 0.422, 34.18, 0.438, 32.89, 0.422, 32.12, 0.375, 32.12, 0.311, 32.64, 0.271, 33.15]],
  ['g', [0.208, 21.06, 0.279, 21.58, 0.319, 20.29, 0.367, 17.72, 0.208, 17.72]],
  ['g', [0.43, 17.72, 0.446, 21.84, 0.47, 24.41, 0.525, 26.21, 0.541, 29.55, 0.549, 33.15, 0.597, 36.75, 0.66, 37.01, 0.74, 37.78, 0.803, 39.58, 0.883, 41.38, 0.946, 42.26, 1.057, 41.9, 1.137, 41.38, 1.137, 37.88, 1.081, 37.88, 1.065, 36.24, 1.01, 35.21, 0.97, 33.67, 0.946, 31.61, 0.946, 27.49, 0.954, 25.95, 1.01, 25.44, 1.057, 24.92, 1.081, 23.38, 1.057, 21.32, 1.002, 20.29, 0.962, 19.78, 0.962, 17.72]],
  ['b', [0.549, 19.88, 0.533, 21.84, 0.549, 23.64, 0.613, 24.82, 0.652, 26.47, 0.692, 30.07, 0.74, 33.15, 0.787, 34.44, 0.851, 34.54, 0.898, 32.64, 0.914, 30.07, 0.906, 26.47, 0.898, 22.35, 0.895, 17.72, 0.7, 17.72, 0.692, 19.26, 0.613, 19.52]],
  ['b', [0.875, 38.04, 0.914, 39.58, 0.978, 39.99, 1.025, 38.81, 1.033, 37.01, 0.978, 36.14, 0.914, 36.14, 0.879, 36.75]],
  ['b', [0.97, 23.28, 1.002, 23.89, 1.025, 23.28, 1.002, 22.76]],
];
const D61 = [0.64, 44.5, 0.65, 44.0, 0.66, 43.0, 0.67, 42.2, 0.68, 41.5, 0.69, 40.5, 0.7, 39.8, 0.68, 38.5, 0.7, 37.8, 0.72, 37.5, 0.66, 38.0, 0.62, 37.3, 0.55, 36.0, 0.56, 35.2, 0.57, 34.5, 0.54, 34.8, 0.57, 30.3, 0.23, 44.3, 0.24, 43.5, 0.93, 44.5, 0.95, 43.5, 1.07, 42.4, 1.1, 42.6, 0.78, 38.8, 0.27, 23.5, 0.28, 25.0];

const P62: Poly[] = [
  ['g', [0.0009, 37.01, 0.0137, 36.5, 0.0209, 34.18, 0.0151, 32.38, 0.0009, 31.71]],
  ['b', [0.0009, 35.21, 0.0094, 34.95, 0.0117, 34.18, 0.0089, 33.41, 0.0009, 33.26]],
  ['g', [0.0009, 25.69, 0.0137, 25.18, 0.0209, 23.28, 0.0151, 21.58, 0.0009, 20.91]],
  ['b', [0.0009, 24.41, 0.0094, 24.15, 0.0117, 23.28, 0.0089, 22.35, 0.0009, 22.2]],
  ['g', [0.0289, 37.01, 0.0323, 38.19, 0.0403, 38.81, 0.048, 38.4, 0.0529, 37.01, 0.0494, 35.62, 0.0403, 34.95, 0.0323, 35.62]],
  ['g', [0.0709, 40.77, 0.078, 41.13, 0.0837, 40.1, 0.0823, 38.81, 0.0766, 39.33]],
  ['g', [0.0809, 17.72, 0.0794, 22.86, 0.0851, 24.92, 0.0923, 27.49, 0.088, 29.04, 0.078, 29.29, 0.0694, 30.58, 0.068, 32.64, 0.0723, 34.18, 0.0809, 35.21, 0.0823, 37.01, 0.0866, 38.04, 0.1009, 37.78, 0.1194, 37.01, 0.1294, 38.81, 0.138, 41.13, 0.1494, 42.41, 0.168, 43.03, 0.168, 17.72]],
  ['w', [0.168, 27.6, 0.158, 26.98, 0.1551, 25.44, 0.1594, 24.15, 0.168, 23.89]],
  ['b', [0.1066, 17.72, 0.1066, 23.89, 0.0951, 23.38, 0.0923, 24.41, 0.0994, 25.95, 0.1051, 28.01, 0.108, 31.09, 0.1137, 33.15, 0.1237, 34.18, 0.1351, 34.18, 0.1423, 32.64, 0.1509, 32.4, 0.158, 33.25, 0.168, 33.25, 0.168, 30.07, 0.158, 29.97, 0.1509, 30.17, 0.1443, 28.01, 0.1423, 24.41, 0.1423, 17.72]],
  ['b', [0.1423, 39.58, 0.1494, 40.87, 0.158, 40.35, 0.1623, 39.33, 0.158, 37.78, 0.1509, 37.01, 0.1423, 36.75, 0.1409, 38.04]],
  ['g', [0.0543, 17.72, 0.0551, 19.52, 0.0594, 19.78, 0.0623, 19.26, 0.0626, 17.72]],
];
const D62 = [0.104, 45.0, 0.105, 44.2, 0.106, 43.5, 0.107, 42.8, 0.108, 42.0, 0.109, 41.5, 0.111, 43.2, 0.105, 44.8, 0.078, 44.6, 0.079, 43.8, 0.078, 42.4, 0.072, 40.9, 0.075, 40.2, 0.07, 39.8, 0.162, 44.0, 0.16, 43.6, 0.083, 30.8, 0.08, 29.0, 0.04, 29.0, 0.058, 20.2, 0.06, 20.5, 0.16, 19.0];

const P63: Poly[] = [
  ['g', [-5.15, 33.67, -4.4, 33.67, -3.9, 34.18, -3.59, 33.67, -3.4, 31.87, -3.16, 35.21, -2.78, 37.78, -2.28, 39.84, -1.72, 42.41, -1.41, 42.67, -0.91, 41.9, -0.79, 39.33, -0.79, 34.18, -0.91, 30.07, -1.29, 26.98, -1.41, 25.44, -0.66, 24.41, -0.48, 23.13, -0.66, 22.09, -1.41, 21.32, -1.47, 17.72, -3.59, 17.72, -3.65, 21.84, -3.78, 24.92, -3.53, 27.49, -3.53, 29.04, -3.9, 29.81, -4.4, 29.81, -5.15, 29.81]],
  ['b', [-3.28, 17.72, -3.22, 23.89, -3.03, 28.01, -2.66, 31.61, -2.16, 35.21, -1.79, 38.55, -1.54, 39.84, -1.29, 39.58, -1.16, 37.78, -1.29, 35.72, -1.6, 34.44, -1.66, 31.09, -1.72, 26.47, -1.72, 17.72]],
  ['g', [-5.15, 26.21, -4.71, 25.69, -4.55, 24.67, -4.71, 23.64, -5.15, 23.38]],
  ['g', [-0.1, 34.18, 0.08, 35.62, 0.43, 36.34, 0.77, 35.62, 0.95, 34.18, 0.77, 32.89, 0.43, 32.12, 0.08, 32.89]],
  ['g', [2.14, 43.18, 1.64, 42.41, 1.45, 40.87, 1.39, 36.75, 1.2, 34.18, 1.27, 30.07, 1.58, 26.47, 1.52, 23.89, 1.27, 21.84, 1.2, 17.72, 2.14, 17.72]],
  ['b', [2.14, 34.7, 1.76, 33.67, 1.76, 32.12, 2.14, 31.61]],
  ['b', [2.14, 20.55, 1.76, 20.03, 1.76, 17.72, 2.14, 17.72]],
];
const D63 = [-2.47, 45.0, -2.45, 44.3, -2.43, 43.6, -2.4, 42.9, -2.38, 42.2, -2.35, 41.5, -2.3, 40.8, -2.4, 44.7, -3.96, 35.6, -3.9, 35.0, -3.85, 34.7, -3.0, 37.0, -1.3, 30.5, 1.95, 43.2, -3.3, 23.3];

const P64: Poly[] = [
  ['g', [2.009, 42.41, 2.064, 43.44, 2.088, 42.41, 2.108, 40.61, 2.128, 38.55, 2.144, 36.75, 2.167, 35.47, 2.191, 33.67, 2.207, 31.61, 2.223, 29.55, 2.231, 28.52, 2.207, 26.98, 2.175, 25.44, 2.16, 24.41, 2.144, 22.35, 2.128, 20.29, 2.12, 17.72, 2.009, 17.72]],
  ['b', [2.009, 34.44, 2.048, 34.18, 2.052, 39.33, 2.072, 39.84, 2.084, 37.27, 2.088, 34.18, 2.12, 32.12, 2.132, 30.07, 2.124, 27.49, 2.12, 23.89, 2.1, 17.72, 2.009, 17.72]],
  ['h', [2.009, 32.38, 2.056, 32.12, 2.068, 30.07, 2.064, 26.47, 2.048, 23.89, 2.009, 23.12]],
  ['g', [2.195, 23.64, 2.203, 25.03, 2.231, 25.54, 2.259, 24.92, 2.269, 23.64, 2.255, 22.09, 2.231, 21.42, 2.207, 22.09]],
  ['g', [2.296, 37.01, 2.31, 38.19, 2.322, 38.66, 2.342, 38.04, 2.354, 36.86, 2.342, 35.72, 2.326, 35.31, 2.309, 35.98]],
  ['g', [2.38, 34.44, 2.39, 35.62, 2.412, 36.14, 2.429, 34.95, 2.441, 32.89, 2.453, 31.61, 2.473, 31.61, 2.473, 31.0, 2.433, 30.32, 2.413, 30.58, 2.394, 31.87, 2.382, 33.15]],
  ['g', [2.473, 25.69, 2.445, 25.44, 2.441, 24.67, 2.447, 24.0, 2.473, 23.89]],
];
const D64 = [2.06, 45.0, 2.065, 44.5, 2.07, 44.0, 2.04, 44.3, 2.19, 35.8, 2.2, 35.3, 2.195, 35.0, 2.2, 31.0, 2.21, 30.6, 2.22, 30.3, 2.23, 30.0, 2.24, 29.6, 2.23, 28.0, 2.225, 27.6, 2.21, 26.5, 2.2, 26.8, 2.29, 23.3, 2.3, 23.2, 2.16, 23.0, 2.155, 22.8, 2.4, 31.8];

const P65: Poly[] = [
  ['g', [0.324, 17.72, 0.319, 19.78, 0.297, 20.81, 0.264, 22.35, 0.269, 24.15, 0.308, 25.95, 0.351, 26.21, 0.395, 26.72, 0.406, 28.01, 0.401, 29.29, 0.379, 30.07, 0.341, 31.09, 0.33, 32.12, 0.341, 33.15, 0.384, 34.18, 0.406, 34.95, 0.417, 36.75, 0.439, 38.81, 0.461, 40.35, 0.516, 40.87, 0.571, 41.13, 0.614, 41.38, 0.653, 42.93, 0.686, 46.0, 0.697, 46.0, 0.702, 42.41, 0.724, 39.33, 0.746, 38.91, 0.801, 39.07, 0.801, 29.04, 0.735, 28.78, 0.702, 28.01, 0.686, 26.98, 0.691, 25.44, 0.669, 24.41, 0.647, 23.38, 0.645, 20.29, 0.653, 17.72]],
  ['b', [0.428, 17.72, 0.428, 26.47, 0.434, 29.04, 0.456, 32.12, 0.461, 36.75, 0.483, 38.3, 0.516, 38.55, 0.543, 36.75, 0.56, 34.44, 0.603, 35.21, 0.653, 35.72, 0.656, 34.18, 0.636, 32.64, 0.598, 31.61, 0.598, 17.72]],
  ['b', [0.302, 23.38, 0.319, 24.41, 0.341, 24.92, 0.368, 24.15, 0.379, 23.28, 0.357, 22.25, 0.338, 21.84, 0.313, 22.35]],
  ['b', [0.801, 34.18, 0.757, 33.67, 0.74, 32.12, 0.751, 30.58, 0.801, 30.07]],
  ['g', [0.16, 21.58, 0.209, 21.06, 0.231, 20.03, 0.24, 17.72, 0.16, 17.72]],
  ['b', [0.16, 20.03, 0.193, 19.52, 0.2, 17.72, 0.16, 17.72]],
];
const D65 = [0.66, 26.5, 0.67, 25.8, 0.68, 25.0, 0.69, 24.0, 0.7, 23.5, 0.71, 22.8, 0.72, 22.0, 0.69, 21.5, 0.67, 21.0, 0.66, 20.2, 0.68, 19.8, 0.7, 20.5, 0.72, 21.5, 0.74, 23.8, 0.75, 25.5, 0.76, 26.5, 0.73, 24.5, 0.71, 24.8, 0.675, 22.5, 0.655, 23.0, 0.6, 41.8, 0.57, 42.3, 0.55, 42.6, 0.52, 41.8, 0.62, 42.5, 0.68, 43.8, 0.7, 44.5, 0.72, 44.0, 0.73, 43.6, 0.25, 24.0, 0.27, 25.0, 0.24, 23.0, 0.23, 22.5, 0.31, 28.5, 0.35, 28.2, 0.37, 27.8, 0.33, 27.0];

const PANELS: [number, number, Poly[], number[]][] = [
  [1, 0, P10, D10],
  [2, 0, P20, D20], [2, 1, P21, D21],
  [3, 0, P30, D30], [3, 1, P31, D31], [3, 2, P32, D32],
  [4, 0, P40, D40], [4, 1, P41, D41], [4, 2, P42, D42], [4, 3, P43, D43],
  [5, 0, P50, D50], [5, 1, P51, D51], [5, 2, P52, D52], [5, 3, P53, D53], [5, 4, P54, D54],
  [6, 0, P60, D60], [6, 1, P61, D61], [6, 2, P62, D62], [6, 3, P63, D63], [6, 4, P64, D64], [6, 5, P65, D65],
];

// ---------- layout ----------
const COLX = [85, 303, 520, 737, 955, 1172, 1389];
const ROWY = [36, 251, 467, 682, 897, 1112, 1327];
const PW = 187;
const PH = 174;
const ML = 75;
const MT = 10;
const MR = 10;
const MB = 50;
const CW = ML + PW + MR;
const CH = MT + PH + MB;
const FONT = '"DejaVu Sans", Verdana, sans-serif';
const GRAY = '#a9a9a9';
const BLUE = '#4682b4';
const LW = 2;

const pairs = (flat: number[], close: boolean) => {
  const pts: { x: number; y: number }[] = [];
  for (let k = 0; k + 1 < flat.length; k += 2) pts.push({ x: flat[k], y: flat[k + 1] });
  if (close && pts.length) pts.push(pts[0]);
  return pts;
};

const charW = (s: string, fs: number) => {
  let w = 0;
  for (const c of s) w += c === '.' ? 0.318 : c === '\u2212' ? 0.838 : 0.636;
  return w * fs;
};
const fmt = (v: number, d: number) => (v < 0 ? '\u2212' : '') + Math.abs(v).toFixed(d);
const TFS = 12.4;

const makeXTick = (dec: number, show: boolean) => (props: any) => {
  if (!show) return <g />;
  const { x, payload } = props;
  const s = fmt(payload.value, dec);
  const bb = (charW(s, TFS) + 0.73 * TFS) * 0.707;
  const cy = MT + PH + 14.5 + bb / 2;
  return (
    <text x={x} y={cy} textAnchor="middle" dominantBaseline="central" fontSize={TFS} fontFamily={FONT} fill="#000" transform={`rotate(-45 ${x} ${cy})`}>
      {s}
    </text>
  );
};
const makeYTick = (dec: number, show: boolean) => (props: any) => {
  if (!show) return <g />;
  const { y, payload } = props;
  const s = fmt(payload.value, dec);
  const ax = ML - 13.5;
  const ay = y + 3.5;
  return (
    <text x={ax} y={ay} textAnchor="end" fontSize={TFS} fontFamily={FONT} fill="#000" transform={`rotate(-45 ${ax} ${ay})`}>
      {s}
    </text>
  );
};

const NoShape = () => <g />;
const Dot = (p: any) => <circle cx={p.cx} cy={p.cy} r={1.6} fill="#000" fillOpacity={0.65} />;
const Square = (p: any) => <rect x={p.cx - 4} y={p.cy - 4} width={8} height={8} fill={BLUE} />;

const ORDER: Record<string, number> = { g: 0, w: 1, b: 2, h: 3 };
const STYLE: Record<string, any> = {
  g: { fill: GRAY, stroke: '#000', strokeWidth: LW, strokeLinejoin: 'round' },
  w: { fill: '#fff', stroke: '#000', strokeWidth: LW, strokeLinejoin: 'round' },
  b: { fill: '#000', stroke: '#000', strokeWidth: 1, strokeLinejoin: 'round' },
  h: { fill: GRAY, stroke: 'none', strokeWidth: 0 },
};

function Hist({ k }: { k: number }) {
  const counts = HISTS[k];
  const lo = LO[k];
  const hi = HI[k];
  const data = counts.map((c, b) => ({ x: lo + ((hi - lo) * b) / counts.length, y: c }));
  data.push({ x: hi, y: counts[counts.length - 1] });
  const ymax = Math.max(...counts) * 1.1;
  const t = TRUTH[k];
  return (
    <div style={{ position: 'absolute', left: COLX[k] - ML, top: ROWY[k] - MT }}>
      <ComposedChart width={CW} height={CH} data={data} margin={{ top: MT, right: MR, bottom: 0, left: 0 }}>
        <XAxis type="number" dataKey="x" domain={[lo, hi]} allowDataOverflow ticks={TICKS[k]} interval={0} tickSize={4} stroke="#000" height={MB} tick={makeXTick(DECIMALS[k], k === 6)} />
        <YAxis type="number" dataKey="y" domain={[0, ymax]} allowDataOverflow width={ML} tick={false} tickLine={false} axisLine={false} />
        <Line type="stepAfter" dataKey="y" stroke="#000" strokeWidth={LW} dot={false} activeDot={false} isAnimationActive={false} />
        {QUANTILES[k].map((q, n) => (
          <ReferenceLine key={'q' + n} x={q} stroke="#000" strokeWidth={LW} strokeDasharray="7.4 3.2" />
        ))}
        {t !== null && <ReferenceLine x={t} stroke={BLUE} strokeWidth={2} />}
        <ReferenceArea x1={lo} x2={hi} y1={0} y2={ymax} fill="none" fillOpacity={0} stroke="#000" strokeWidth={1} />
      </ComposedChart>
    </div>
  );
}

function Panel({ i, j, polys, dots }: { i: number; j: number; polys: Poly[]; dots: number[] }) {
  const sorted = polys.map((p, n) => ({ p, n })).sort((a, b) => ORDER[a.p[0]] - ORDER[b.p[0]] || a.n - b.n);
  const tx = TRUTH[j];
  const ty = TRUTH[i];
  return (
    <div style={{ position: 'absolute', left: COLX[j] - ML, top: ROWY[i] - MT }}>
      <ComposedChart width={CW} height={CH} margin={{ top: MT, right: MR, bottom: 0, left: 0 }}>
        <XAxis type="number" dataKey="x" domain={[LO[j], HI[j]]} allowDataOverflow ticks={TICKS[j]} interval={0} tickSize={4} stroke="#000" height={MB} tick={makeXTick(DECIMALS[j], i === 6)} />
        <YAxis type="number" dataKey="y" domain={[LO[i], HI[i]]} allowDataOverflow ticks={TICKS[i]} interval={0} tickSize={4} stroke="#000" width={ML} tick={makeYTick(DECIMALS[i], j === 0)} />
        {sorted.map(({ p, n }) => (
          <Scatter
            key={'p' + n}
            data={pairs(p[1], true)}
            fill={STYLE[p[0]].fill}
            shape={NoShape}
            line={STYLE[p[0]]}
            lineType="joint"
            isAnimationActive={false}
            legendType="none"
          />
        ))}
        <Scatter key="dots" data={pairs(dots, false)} shape={Dot} fill="#000" isAnimationActive={false} legendType="none" />
        {tx !== null && <ReferenceLine x={tx} stroke={BLUE} strokeWidth={2} />}
        {ty !== null && <ReferenceLine y={ty} stroke={BLUE} strokeWidth={2} />}
        {tx !== null && ty !== null && (
          <Scatter key="truth" data={[{ x: tx, y: ty }]} shape={Square} fill={BLUE} isAnimationActive={false} legendType="none" />
        )}
        <ReferenceArea x1={LO[j]} x2={HI[j]} y1={LO[i]} y2={HI[i]} fill="none" fillOpacity={0} stroke="#000" strokeWidth={1} />
      </ComposedChart>
    </div>
  );
}

function Title({ k }: { k: number }) {
  return (
    <div
      style={{
        position: 'absolute',
        left: COLX[k] + PW / 2 - 200,
        width: 400,
        top: ROWY[k] - 25,
        height: 23,
        display: 'flex',
        justifyContent: 'center',
        alignItems: 'center',
        fontSize: 16.5,
        whiteSpace: 'nowrap',
        color: '#000',
      }}
    >
      <span style={{ lineHeight: 1 }}>{LABELS[k] + ' = ' + MEDIAN_TXT[k]}</span>
      <span style={{ display: 'inline-flex', flexDirection: 'column', fontSize: 11.5, lineHeight: '11px', marginLeft: 1 }}>
        <span>{PLUS_TXT[k]}</span>
        <span>{MINUS_TXT[k]}</span>
      </span>
    </div>
  );
}

export default function App() {
  return (
    <div style={{ position: 'absolute', left: 0, top: 0, width: 1586, height: 1582, background: '#fff', fontFamily: FONT, overflow: 'hidden' }}>
      {LABELS.map((_, k) => (
        <Hist key={'h' + k} k={k} />
      ))}
      {PANELS.map(([i, j, polys, dots]) => (
        <Panel key={'p' + i + j} i={i} j={j} polys={polys} dots={dots} />
      ))}
      {LABELS.map((_, k) => (
        <Title key={'t' + k} k={k} />
      ))}
      {LABELS.map((lab, k) => (
        <div
          key={'xl' + k}
          style={{ position: 'absolute', left: COLX[k] + PW / 2 - 100, width: 200, top: 1549, height: 24, lineHeight: '24px', fontSize: 19, textAlign: 'center', color: '#000' }}
        >
          {lab}
        </div>
      ))}
      {LABELS.slice(1).map((lab, n) => (
        <div
          key={'yl' + n}
          style={{
            position: 'absolute',
            left: 19 - 100,
            width: 200,
            top: ROWY[n + 1] + PH / 2 - 12,
            height: 24,
            lineHeight: '24px',
            fontSize: 19,
            textAlign: 'center',
            color: '#000',
            transform: 'rotate(-90deg)',
          }}
        >
          {lab}
        </div>
      ))}
    </div>
  );
}
